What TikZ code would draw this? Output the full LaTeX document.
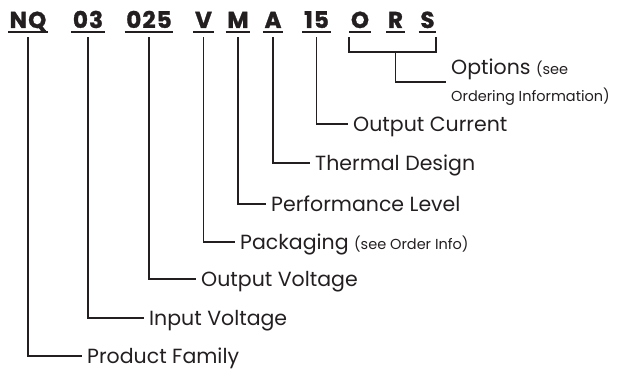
\documentclass[tikz,border=0pt]{standalone}
\usepackage{fontspec}
\setmainfont{Poppins}
\newfontfamily\codefont{Poppins}[LetterSpace=5, BoldFeatures={FakeBold=1.2}]
\definecolor{ink}{RGB}{35,31,32}
\newcommand{\lblfont}{\fontsize{20.5}{27}\selectfont}
\newcommand{\notefont}{\fontsize{14.5}{17}\selectfont}
\tikzset{
  code/.style={font=\codefont\bfseries\fontsize{23}{26}\selectfont, anchor=base,
    inner xsep=1.5pt, inner ysep=4pt, text depth=0pt},
  uline/.style={line width=1.4pt},
  conn/.style={line width=1.7pt},
  lbl/.style={anchor=west, font=\lblfont, inner xsep=5pt, inner ysep=0pt,
    text height=14.3pt, text depth=0pt},
  optlbl/.style={anchor=west, font=\lblfont, inner xsep=5pt, inner ysep=0pt, align=left}
}
\begin{document}
\begin{tikzpicture}[x=1pt,y=-1pt,color=ink]
\useasboundingbox (0,0) rectangle (629,371);
\node[code] (nq) at (28,28) {NQ};
\node[code] (vin) at (88,28) {03};
\node[code] (vout) at (149,28) {025};
\node[code] (pkg) at (203.5,28) {V};
\node[code] (perf) at (238,28) {M};
\node[code] (therm) at (273,28) {A};
\node[code] (iout) at (316.5,28) {15};
\node[code] (optO) at (360,28) {O};
\node[code] (optR) at (395.5,28) {R};
\node[code] (optS) at (427.5,28) {S};
\foreach \c in {nq,vin,vout,pkg,perf,therm,iout,optO,optR,optS}
  \draw[uline] (\c.south west) -- (\c.south east);

\node[lbl] (fam) at (82,356) {Product Family};
\node[lbl] (inv) at (144,318) {Input Voltage};
\node[lbl] (outv) at (196,279) {Output Voltage};
\node[lbl] (pack) at (235,242) {Packaging {\notefont (see Order Info)}};
\node[lbl] (level) at (266,204) {Performance Level};
\node[lbl] (therml) at (310,163) {Thermal Design};
\node[lbl] (curr) at (348,124) {Output Current};
\node[optlbl] (opt) at (446,82) {Options {\notefont (see}\\{\notefont Ordering Information)}};

\foreach \a/\b in {nq/fam,vin/inv,vout/outv,pkg/pack,perf/level,therm/therml,iout/curr}
  \draw[conn] ([yshift=-5pt]\a.south) |- (\b.west);
\draw[conn] ([yshift=-5pt]optO.south west) -- ++(0,15) coordinate (brk)
  -| ([yshift=-5pt]optS.south east);
\draw[conn] (optR |- brk) |- (opt.west);
\end{tikzpicture}
\end{document}
